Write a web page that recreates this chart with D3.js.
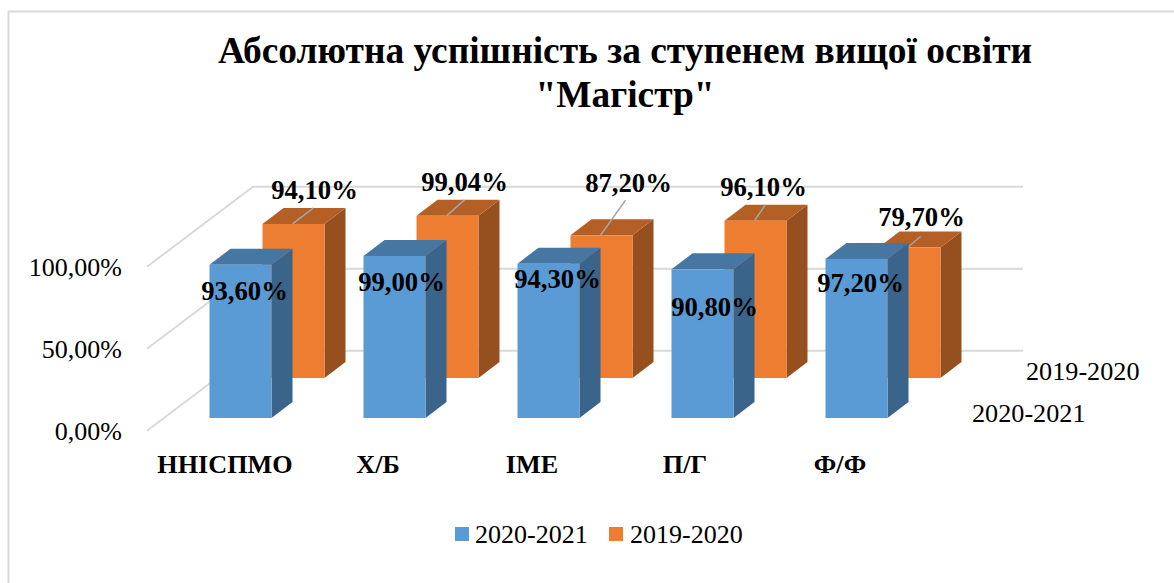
<!DOCTYPE html>
<html><head><meta charset="utf-8">
<script src="https://cdn.jsdelivr.net/npm/d3@7"></script>
<style>html,body{margin:0;padding:0;background:#fff}svg{display:block}text{font-family:"Liberation Serif","Times New Roman",serif;fill:#000}</style>
</head><body><svg id="c" width="1174" height="583"></svg>
<script>
const titleLines = ["Абсолютна успішність за ступенем вищої освіти", "\"Магістр\""];
const categories = ["ННІСПМО", "Х/Б", "ІМЕ", "П/Г", "Ф/Ф"];
const seriesNames = ["2019-2020", "2020-2021"];
const values2019 = [94.10, 99.04, 87.20, 96.10, 79.70];
const values2020 = [93.60, 99.00, 94.30, 90.80, 97.20];
const yTicks = [0, 50, 100];

const W = 1174, H = 583;
const svg = d3.select("#c");
const fmt = v => v.toFixed(2).replace(".", ",") + "%";

// Pseudo-3D projection layout
const x = d3.scaleBand().domain(categories).range([209.5, 887.5]).paddingInner(0.5974).paddingOuter(0);
const y = d3.scaleLinear().domain([0, 100]).range([0, 163.7]);
const depthX = d3.scalePoint().domain(["2020-2021", "2019-2020"]).range([0, 53]);
const depthY = d3.scalePoint().domain(["2020-2021", "2019-2020"]).range([418, 378]);
const barDX = 21, barDY = 16;
const colors = {
  "2020-2021": {front: "#5b9bd5", top: "#4676a2", side: "#3a6489"},
  "2019-2020": {front: "#ed7d31", top: "#b45f25", side: "#96501f"}
};

// Frame
svg.append("path").attr("d", `M8.5,${H}V11.5H${W}`).attr("fill", "none").attr("stroke", "#d9d9d9").attr("stroke-width", 2);

// Title
svg.append("g").selectAll("text").data(titleLines).join("text")
  .attr("x", 625).attr("y", (d, i) => 63 + i * 44)
  .attr("text-anchor", "middle").attr("font-size", 37.4).attr("font-weight", "bold").text(d => d);

// Gridlines: side wall + back wall
const wallY = d3.scaleLinear().domain([0, 100]).range([430.7, 266.7]);
const grid = svg.append("g").attr("fill", "none").attr("stroke", "#d9d9d9").attr("stroke-width", 2);
yTicks.forEach(t => {
  const y0 = wallY(t);
  grid.append("path").attr("d", `M147,${y0}L253,${y0 - 80}H1023`);
});

// Y axis labels
svg.append("g").selectAll("text").data(yTicks).join("text")
  .attr("x", 122).attr("y", d => wallY(d) + 9).attr("text-anchor", "end").attr("font-size", 26).text(d => d.toFixed(2).replace(".", ",") + "%");

// Bars
function drawSeries(name, vals) {
  const c = colors[name];
  const g = svg.append("g").attr("data-series", name);
  const w = x.bandwidth();
  categories.forEach((cat, i) => {
    const x0 = x(cat) + depthX(name), base = depthY(name), top = base - y(vals[i]);
    g.append("path").attr("fill", c.side).attr("d", `M${x0 + w},${top}l${barDX},${-barDY}V${base - barDY}l${-barDX},${barDY}Z`);
    g.append("path").attr("fill", c.top).attr("d", `M${x0},${top}l${barDX},${-barDY}h${w}l${-barDX},${barDY}Z`);
    g.append("rect").attr("x", x0).attr("y", top).attr("width", w).attr("height", base - top).attr("fill", c.front);
  });
}
drawSeries("2019-2020", values2019);

// Leader lines for back series, placed relative to the bar top
const leaders = [[30, 0, 51, -16], [30, 0, 48, -16], [30, 0, 55, -35], [30, 0, 41, -16], [29, 0, 42, -11]];
svg.append("g").attr("stroke", "#a6a6a6").attr("stroke-width", 1.5).selectAll("line").data(categories).join("line")
  .attr("x1", (d, i) => x(d) + depthX("2019-2020") + leaders[i][0])
  .attr("y1", (d, i) => depthY("2019-2020") - y(values2019[i]) + leaders[i][1])
  .attr("x2", (d, i) => x(d) + depthX("2019-2020") + leaders[i][2])
  .attr("y2", (d, i) => depthY("2019-2020") - y(values2019[i]) + leaders[i][3]);

drawSeries("2020-2021", values2020);

// Value labels (hand-placed offsets relative to each bar's front top-left)
const backLabelOffset = [[52, -34], [48, -34], [58, -52], [39, -34], [43, -31]];
const frontLabelOffset = [[35, 26], [38, 26], [40, 15], [43, 38], [35, 24]];
const labels = svg.append("g").attr("font-size", 26.7).attr("font-weight", "bold").attr("text-anchor", "middle");
categories.forEach((cat, i) => {
  labels.append("text").attr("x", x(cat) + depthX("2019-2020") + backLabelOffset[i][0])
    .attr("y", depthY("2019-2020") - y(values2019[i]) + backLabelOffset[i][1] + 9).text(fmt(values2019[i]));
  labels.append("text").attr("x", x(cat) + frontLabelOffset[i][0])
    .attr("y", depthY("2020-2021") - y(values2020[i]) + frontLabelOffset[i][1] + 9).text(fmt(values2020[i]));
});

// Category labels
const catCenter = [225, 378, 532, 685, 840];
svg.append("g").selectAll("text").data(categories).join("text")
  .attr("x", (d, i) => catCenter[i]).attr("y", 472.5).attr("text-anchor", "middle")
  .attr("font-size", 26.2).attr("font-weight", "bold").text(d => d);

// Depth-axis labels
svg.append("text").attr("x", 1026).attr("y", 380).attr("font-size", 26.2).text(seriesNames[0]);
svg.append("text").attr("x", 972).attr("y", 422).attr("font-size", 26.2).text(seriesNames[1]);

// Legend
const legendItems = [["2020-2021", 455, 475], ["2019-2020", 609, 630]];
const lg = svg.append("g");
legendItems.forEach(([n, sx, tx]) => {
  lg.append("rect").attr("x", sx).attr("y", 527).attr("width", 14).attr("height", 14).attr("fill", colors[n].front);
  lg.append("text").attr("x", tx).attr("y", 543).attr("font-size", 26).text(n);
});
</script></body></html>
